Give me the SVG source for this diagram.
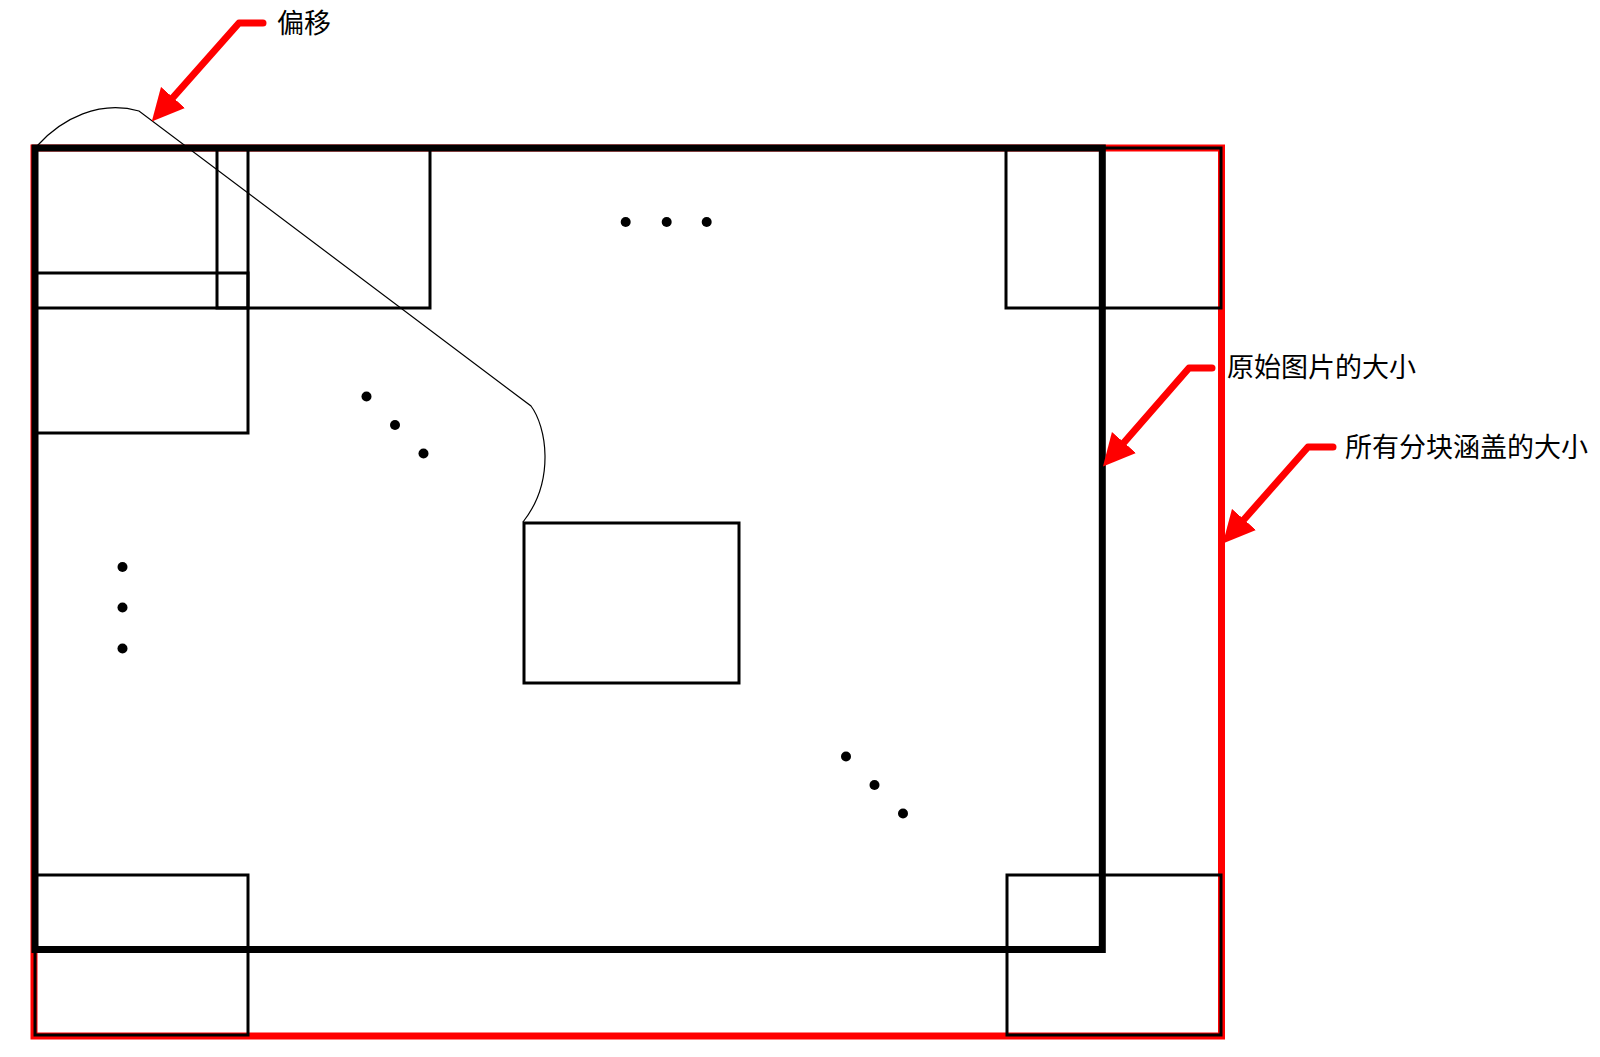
<svg xmlns="http://www.w3.org/2000/svg" width="1600" height="1057" viewBox="0 0 1600 1057">
<style>
.tile{fill:none;stroke:#000;stroke-width:3}
.dot{fill:#000}
.lbl{font-family:"Noto Sans CJK SC","Noto Sans CJK JP",sans-serif;font-size:27px;fill:#000}
.red{fill:none;stroke:#ff0000;stroke-width:7;stroke-linecap:round;stroke-linejoin:round}
</style>
<defs>
<marker id="ah" viewBox="0 0 32 32" refX="0" refY="16" markerWidth="32" markerHeight="32" markerUnits="userSpaceOnUse" orient="auto">
<path d="M0,0 L32,16 L0,32 z" fill="#ff0000"/>
</marker>
</defs>
<rect width="1600" height="1057" fill="#fff"/>
<g id="covered-area">
<rect x="34" y="148" width="1187.5" height="888" fill="none" stroke="#ff0000" stroke-width="7"/>
</g>
<g id="original-image">
<rect x="35" y="148" width="1067.3" height="801.5" fill="none" stroke="#000" stroke-width="7"/>
</g>
<g id="tile-1"><rect class="tile" x="35" y="148" width="213" height="160"/></g>
<g id="tile-2"><rect class="tile" x="217" y="148" width="213" height="160"/></g>
<g id="tile-3"><rect class="tile" x="35" y="273" width="213" height="160"/></g>
<g id="tile-top-right"><rect class="tile" x="1006" y="148" width="215" height="160"/></g>
<g id="tile-bottom-left"><rect class="tile" x="35" y="875" width="213" height="160"/></g>
<g id="tile-bottom-right"><rect class="tile" x="1007" y="875" width="214" height="160"/></g>
<g id="tile-center"><rect class="tile" x="524" y="523" width="215" height="160"/></g>
<g id="dots">
<circle class="dot" cx="625.7" cy="222" r="5"/>
<circle class="dot" cx="666.7" cy="222" r="5"/>
<circle class="dot" cx="706.7" cy="222" r="5"/>
<circle class="dot" cx="366.5" cy="396.5" r="5"/>
<circle class="dot" cx="395" cy="425" r="5"/>
<circle class="dot" cx="423.5" cy="453.5" r="5"/>
<circle class="dot" cx="122.5" cy="567" r="5"/>
<circle class="dot" cx="122.5" cy="607.5" r="5"/>
<circle class="dot" cx="122.5" cy="648.5" r="5"/>
<circle class="dot" cx="846" cy="756.5" r="5"/>
<circle class="dot" cx="874.5" cy="785" r="5"/>
<circle class="dot" cx="903" cy="813.5" r="5"/>
</g>
<g id="connectors">
<path d="M37,146 C62,118 100,100 139,111 L531,406 C546,426 556,480 523,522" fill="none" stroke="#000" stroke-width="1.2"/>
<path class="red" d="M263,23 L239,23 L173,97.5" marker-end="url(#ah)"/>
<path class="red" d="M1212,368 L1189,368 L1124,442.5" marker-end="url(#ah)"/>
<path class="red" d="M1333,447 L1308,447 L1244,519.5" marker-end="url(#ah)"/>
</g>
<g id="labels">
<text class="lbl" x="277" y="33">偏移</text>
<text class="lbl" x="1227" y="377">原始图片的大小</text>
<text class="lbl" x="1345" y="457">所有分块涵盖的大小</text>
</g>
</svg>
